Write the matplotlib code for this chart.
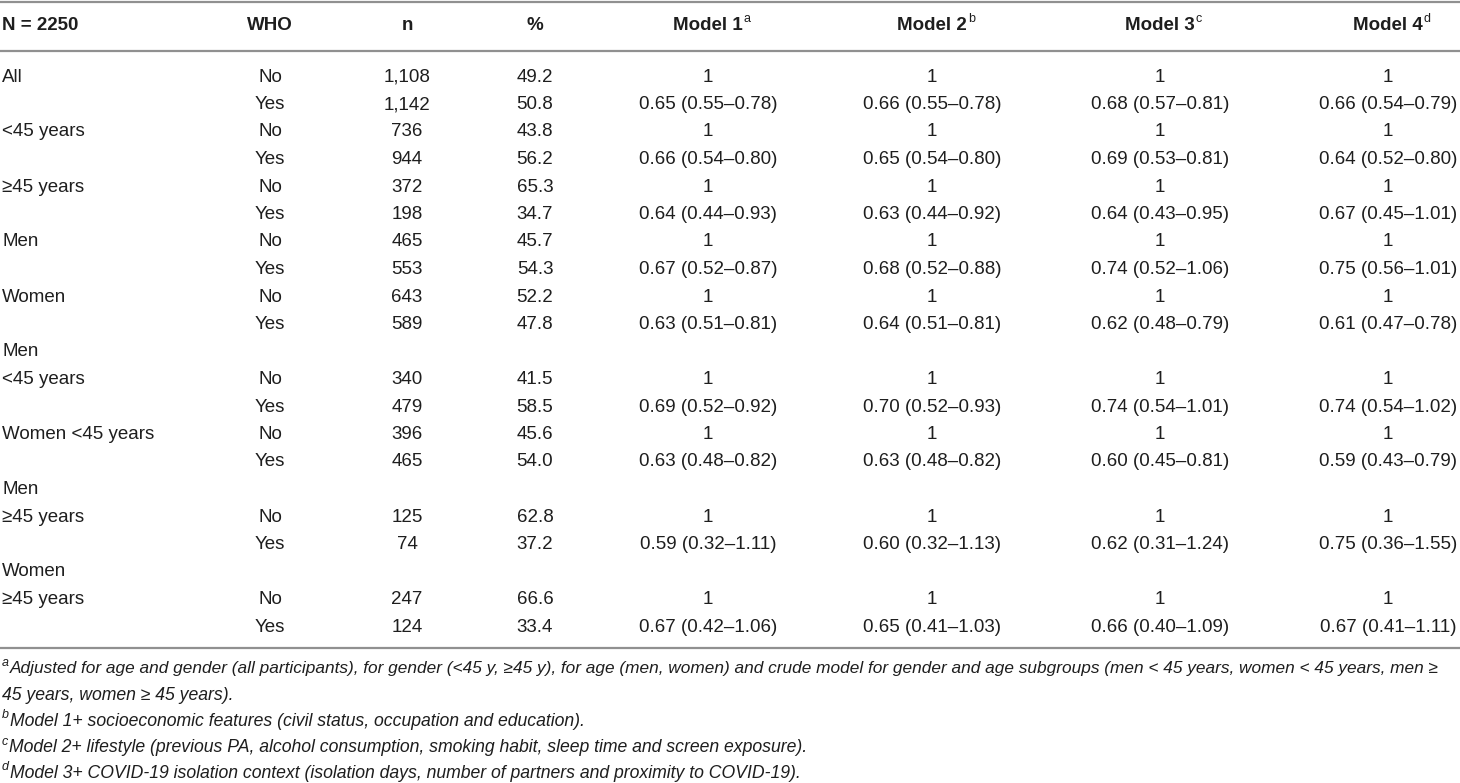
import matplotlib
matplotlib.use("Agg")
import matplotlib.pyplot as plt

# table data
row_labels = ["All", "", "<45 years", "", "≥45 years", "", "Men", "", "Women", "",
              "Men", "<45 years", "", "Women <45 years", "", "Men", "≥45 years", "",
              "Women", "≥45 years", ""]
who = ["No", "Yes", "No", "Yes", "No", "Yes", "No", "Yes", "No", "Yes",
       "", "No", "Yes", "No", "Yes", "", "No", "Yes", "", "No", "Yes"]
n_vals = ["1,108", "1,142", "736", "944", "372", "198", "465", "553", "643", "589",
          "", "340", "479", "396", "465", "", "125", "74", "", "247", "124"]
pct_vals = ["49.2", "50.8", "43.8", "56.2", "65.3", "34.7", "45.7", "54.3", "52.2", "47.8",
            "", "41.5", "58.5", "45.6", "54.0", "", "62.8", "37.2", "", "66.6", "33.4"]

# odds ratios (95% CI) for the "Yes" rows, in order
m1_or = [0.65, 0.66, 0.64, 0.67, 0.63, 0.69, 0.63, 0.59, 0.67]
m1_lo = [0.55, 0.54, 0.44, 0.52, 0.51, 0.52, 0.48, 0.32, 0.42]
m1_hi = [0.78, 0.80, 0.93, 0.87, 0.81, 0.92, 0.82, 1.11, 1.06]
m2_or = [0.66, 0.65, 0.63, 0.68, 0.64, 0.70, 0.63, 0.60, 0.65]
m2_lo = [0.55, 0.54, 0.44, 0.52, 0.51, 0.52, 0.48, 0.32, 0.41]
m2_hi = [0.78, 0.80, 0.92, 0.88, 0.81, 0.93, 0.82, 1.13, 1.03]
m3_or = [0.68, 0.69, 0.64, 0.74, 0.62, 0.74, 0.60, 0.62, 0.66]
m3_lo = [0.57, 0.53, 0.43, 0.52, 0.48, 0.54, 0.45, 0.31, 0.40]
m3_hi = [0.81, 0.81, 0.95, 1.06, 0.79, 1.01, 0.81, 1.24, 1.09]
m4_or = [0.66, 0.64, 0.67, 0.75, 0.61, 0.74, 0.59, 0.75, 0.67]
m4_lo = [0.54, 0.52, 0.45, 0.56, 0.47, 0.54, 0.43, 0.36, 0.41]
m4_hi = [0.79, 0.80, 1.01, 1.01, 0.78, 1.02, 0.79, 1.55, 1.11]

headers = ["N = 2250", "WHO", "n", "%"]
model_names = ["Model 1", "Model 2", "Model 3", "Model 4"]
model_marks = ["a", "b", "c", "d"]

footnotes = [
    ("a", "Adjusted for age and gender (all participants), for gender (<45 y, ≥45 y), for age (men, women) "
          "and crude model for gender and age subgroups (men < 45 years, women < 45 years, men ≥"),
    ("", "45 years, women ≥ 45 years)."),
    ("b", "Model 1+ socioeconomic features (civil status, occupation and education)."),
    ("c", "Model 2+ lifestyle (previous PA, alcohol consumption, smoking habit, sleep time and screen exposure)."),
    ("d", "Model 3+ COVID-19 isolation context (isolation days, number of partners and proximity to COVID-19)."),
]


def model_column(ors, los, his):
    col = []
    k = 0
    for w in who:
        if w == "No":
            col.append("1")
        elif w == "Yes":
            col.append(f"{ors[k]:.2f} ({los[k]:.2f}–{his[k]:.2f})")
            k += 1
        else:
            col.append("")
    return col


models = [model_column(m1_or, m1_lo, m1_hi), model_column(m2_or, m2_lo, m2_hi),
          model_column(m3_or, m3_lo, m3_hi), model_column(m4_or, m4_lo, m4_hi)]

W, H = 1460, 783
fig = plt.figure(figsize=(W / 100, H / 100), dpi=100)
ax = fig.add_axes([0, 0, 1, 1])
ax.set_xlim(0, W)
ax.set_ylim(H, 0)
ax.axis("off")

font = "Liberation Sans"
txt_color = "#1e1e1e"
line_color = "#909090"
fs = 13.5
col_x = [270, 407, 535]
model_x = [708, 932, 1160, 1388]
y_head = 25
y0, dy = 77, 27.5

# rules
for y in [1.5, 50.5, 648]:
    ax.plot([0, W], [y, y], color=line_color, lw=1.6, solid_capstyle="butt")

# header
ax.text(2, y_head, headers[0], ha="left", va="center", fontsize=fs, fontweight="bold",
        family=font, color=txt_color)
for x, h in zip(col_x, headers[1:]):
    ax.text(x, y_head, h, ha="center", va="center", fontsize=fs, fontweight="bold",
            family=font, color=txt_color)

fig.canvas.draw()
renderer = fig.canvas.get_renderer()
for x, name, mark in zip(model_x, model_names, model_marks):
    t = ax.text(x, y_head, name, ha="center", va="center", fontsize=fs, fontweight="bold",
                family=font, color=txt_color)
    bb = t.get_window_extent(renderer)
    ax.text(bb.x1 + 1, y_head - 6, mark, ha="left", va="center", fontsize=9,
            family=font, color=txt_color)

# body
for i in range(len(row_labels)):
    y = y0 + i * dy
    ax.text(2, y, row_labels[i], ha="left", va="center", fontsize=fs, family=font, color=txt_color)
    for x, col in zip(col_x, [who, n_vals, pct_vals]):
        ax.text(x, y, col[i], ha="center", va="center", fontsize=fs, family=font, color=txt_color)
    for x, col in zip(model_x, models):
        ax.text(x, y, col[i], ha="center", va="center", fontsize=fs, family=font, color=txt_color)

# footnotes
fy = [669, 696, 721, 748, 773]
note_sizes = [12.45, 12.7, 12.7, 12.7, 12.7]
for y, (mark, note), nfs in zip(fy, footnotes, note_sizes):
    x = 2
    if mark:
        m = ax.text(x, y - 6, mark, ha="left", va="center", fontsize=9, style="italic",
                    family=font, color=txt_color)
        x = m.get_window_extent(renderer).x1 + 0.5
    ax.text(x, y, note, ha="left", va="center", fontsize=nfs, style="italic",
            family=font, color=txt_color)

fig.savefig("out.png", dpi=100)
